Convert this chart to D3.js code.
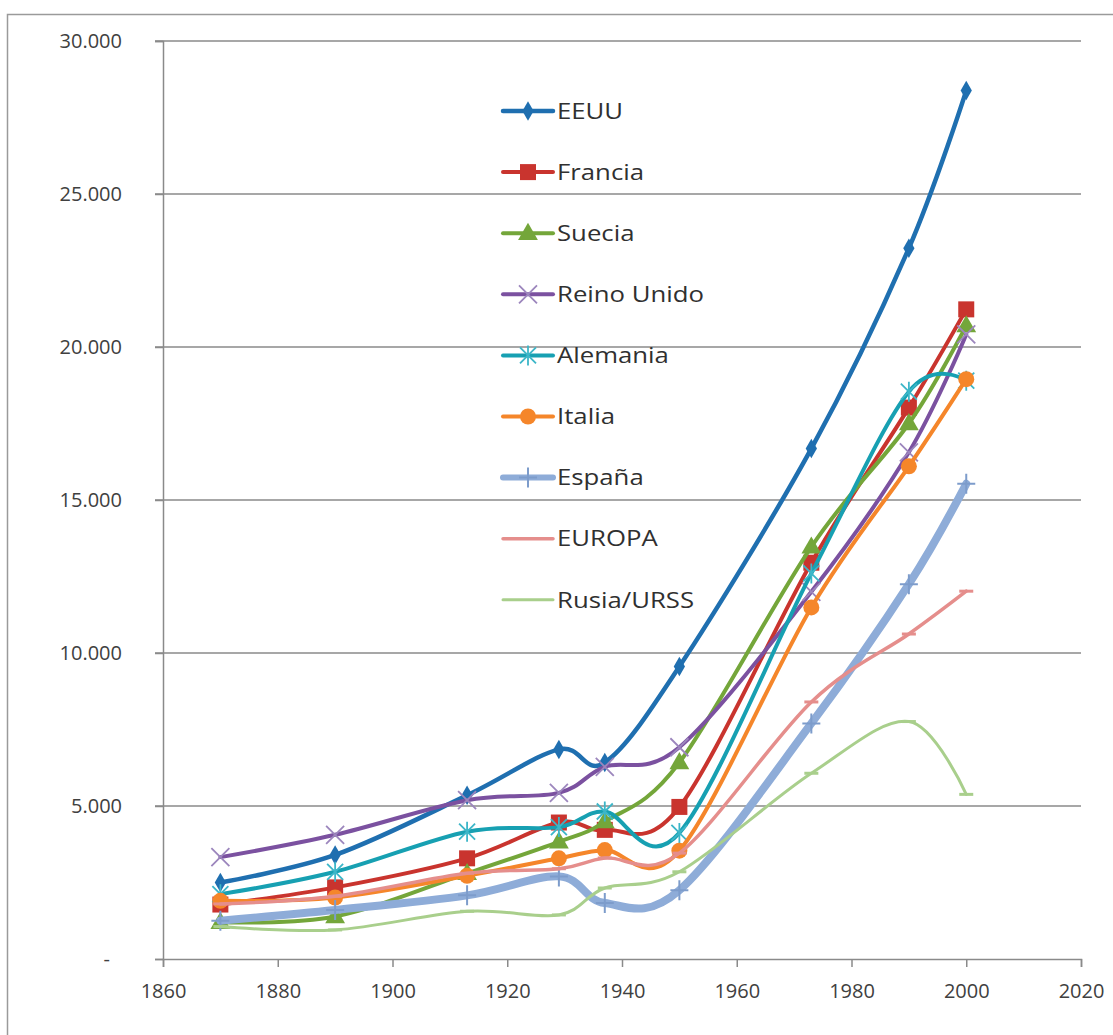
<!DOCTYPE html>
<html><head><meta charset="utf-8">
<script src="https://cdn.jsdelivr.net/npm/d3@7"></script>
<style>body{margin:0;background:#fff}svg{display:block}</style>
</head><body>
<svg id="c" width="1113" height="1035"></svg>
<script>
const years = [1870,1890,1913,1929,1937,1950,1973,1990,2000];
const seriesNames = ["EEUU","Francia","Suecia","Reino Unido","Alemania","Italia","España","EUROPA","Rusia/URSS"];
const eeuu      = [2500,3400,5350,6850,6420,9560,16680,23230,28380];
const francia   = [1780,2340,3290,4460,4220,4970,12950,18020,21230];
const suecia    = [1200,1390,2800,3830,4490,6420,13470,17500,20700];
const reinoUnido= [3330,4060,5190,5430,6280,6920,12000,16560,20410];
const alemania  = [2120,2850,4160,4310,4820,4120,12600,18540,18900];
const italia    = [1900,2010,2720,3290,3560,3540,11490,16100,18950];
const espana    = [1250,1600,2080,2700,1830,2250,7700,12250,15530];
const europa    = [1800,2050,2800,2950,3300,3460,8400,10620,12020];
const rusia     = [1060,950,1560,1440,2320,2850,6070,7760,5380];
const xTicks = [1860,1880,1900,1920,1940,1960,1980,2000,2020];
const yTicks = [0,5000,10000,15000,20000,25000,30000];

const values = [eeuu,francia,suecia,reinoUnido,alemania,italia,espana,europa,rusia];
const colors = ["#1f6fb0","#c9342e","#74a63a","#7b51a0","#17a0b2","#f5862a","#8eacd8","#e58e8c","#a9cf8c"];
const widths = [4.5,4,4,4,4,4,8,3.5,3];
const markers = ["diamond","square","triangle","x","star","circle","plus","dash","dash"];

const svg = d3.select("#c");
const mLeft=163, mTop=41, W=918, H=918;
const x = d3.scaleLinear().domain([1860,2020]).range([mLeft,mLeft+W]);
const y = d3.scaleLinear().domain([0,30000]).range([mTop+H,mTop]);

svg.append("path").attr("d","M7.5,1035 V14.5 H1113").attr("fill","none").attr("stroke","#9a9a9a").attr("stroke-width",1.5);

const gridC="#8a8a8a";
const fontF="'Open Sans', sans-serif";
svg.append("g").selectAll("line").data(yTicks.filter(d=>d>0)).join("line")
  .attr("x1",mLeft-8).attr("x2",mLeft+W).attr("y1",d=>y(d)).attr("y2",d=>y(d))
  .attr("stroke",gridC).attr("stroke-width",1.5);
const yAxis = svg.append("g").attr("transform",`translate(${mLeft},0)`)
  .call(d3.axisLeft(y).tickValues(yTicks).tickSize(8).tickPadding(33)
    .tickFormat(d=> d===0 ? "-" : d3.format(",")(d).replace(/,/g,".")));
yAxis.select(".domain").attr("stroke",gridC).attr("stroke-width",1.5);
yAxis.selectAll(".tick line").attr("stroke",gridC).attr("stroke-width",1.5);
yAxis.selectAll("text").attr("font-family",fontF).attr("font-size",20).attr("fill","#404040");
yAxis.selectAll(".tick").filter(d=>d===0).select("text").attr("dx",-12);
const xAxis = svg.append("g").attr("transform",`translate(0,${mTop+H})`)
  .call(d3.axisBottom(x).tickValues(xTicks).tickSize(8).tickPadding(17).tickFormat(d3.format("d")));
xAxis.select(".domain").attr("stroke",gridC).attr("stroke-width",1.5);
xAxis.selectAll(".tick line").attr("stroke",gridC).attr("stroke-width",1.5);
xAxis.selectAll("text").attr("font-family",fontF).attr("font-size",20).attr("fill","#404040");

const line = d3.line().x(d=>x(d[0])).y(d=>y(d[1])).curve(d3.curveCardinal.tension(0));

function drawMarker(g, type, cx, cy, color){
  if(type==="diamond") g.append("path").attr("d",d3.symbol(d3.symbolDiamond,110)()).attr("transform",`translate(${cx},${cy})`).attr("fill",color);
  else if(type==="square") g.append("rect").attr("x",cx-8).attr("y",cy-8).attr("width",16).attr("height",16).attr("fill",color);
  else if(type==="triangle") g.append("path").attr("d",d3.symbol(d3.symbolTriangle,170)()).attr("transform",`translate(${cx},${cy+1})`).attr("fill",color);
  else if(type==="circle") g.append("circle").attr("cx",cx).attr("cy",cy).attr("r",8).attr("fill",color);
  else if(type==="x") g.append("path").attr("d",`M${cx-9},${cy-9}L${cx+9},${cy+9}M${cx-9},${cy+9}L${cx+9},${cy-9}`).attr("stroke","#9c86bd").attr("stroke-width",1.8);
  else if(type==="star") g.append("path").attr("d",`M${cx-8},${cy-8}L${cx+8},${cy+8}M${cx-8},${cy+8}L${cx+8},${cy-8}M${cx},${cy-10}L${cx},${cy+10}`).attr("stroke","#3cb6c8").attr("stroke-width",1.8);
  else if(type==="plus") g.append("path").attr("d",`M${cx},${cy-10}L${cx},${cy+10}M${cx-9},${cy}L${cx+9},${cy}`).attr("stroke","#7d9ccb").attr("stroke-width",2);
  else if(type==="dash") g.append("path").attr("d",`M${cx-7},${cy}L${cx+7},${cy}`).attr("stroke",color).attr("stroke-width",3);
}

values.forEach((vals,i)=>{
  const g = svg.append("g");
  const pts = years.map((yr,j)=>[yr,vals[j]]);
  g.append("path").attr("d",line(pts)).attr("fill","none").attr("stroke",colors[i])
    .attr("stroke-width",widths[i]).attr("stroke-linejoin","round").attr("stroke-linecap","round");
  pts.forEach(p=>drawMarker(g, markers[i], x(p[0]), y(p[1]), colors[i]));
});

const lg = svg.append("g");
seriesNames.forEach((name,i)=>{
  const cy = 111 + i*61.1;
  lg.append("line").attr("x1",503).attr("x2",553).attr("y1",cy).attr("y2",cy)
    .attr("stroke",colors[i]).attr("stroke-width",Math.min(widths[i],6)).attr("stroke-linecap","round");
  if(markers[i]!=="dash") drawMarker(lg, markers[i], 528, cy, colors[i]);
  lg.append("text").attr("transform",`translate(557,${cy}) scale(1.17,1)`).attr("dy","0.35em")
    .attr("font-family",fontF).attr("font-size",22).attr("fill","#303030").text(name);
});
</script>
</body></html>
